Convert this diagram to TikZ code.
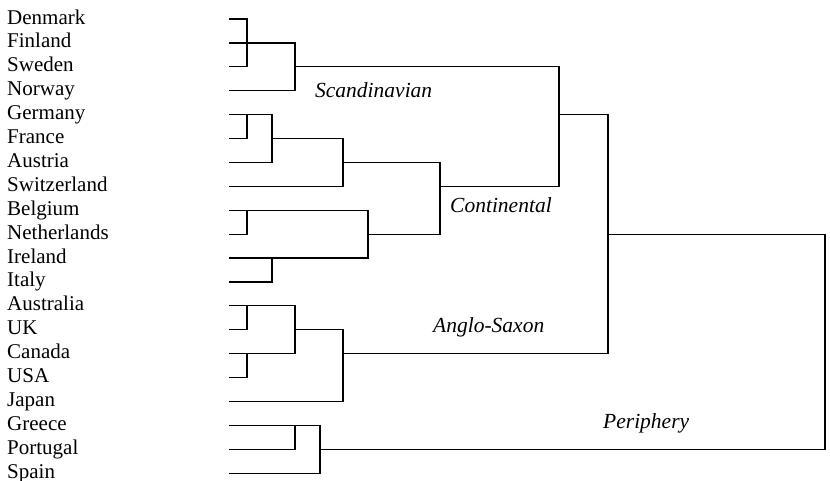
\documentclass[tikz,border=0pt]{standalone}
\usepackage{fontspec}
\setmainfont{Liberation Serif}
\begin{document}
\begin{tikzpicture}[x=1pt,y=-1pt,
  link/.style={line width=1.2pt,line join=miter},
  country/.style={anchor=base west,inner sep=0pt,font=\fontsize{21}{23}\selectfont},
  group/.style={anchor=base west,inner sep=0pt,font=\fontsize{21.5}{23}\selectfont\itshape}]
\useasboundingbox (0,0) rectangle (830,480);
% x levels
\coordinate (xa) at (247,0);
\coordinate (xb) at (272,0);
\coordinate (xc) at (295,0);
\coordinate (xd) at (320,0);
\coordinate (xe) at (343,0);
\coordinate (xf) at (368,0);
\coordinate (xg) at (440,0);
\coordinate (xh) at (559,0);
\coordinate (xi) at (608,0);
\coordinate (xj) at (825,0);
% leaves
\foreach \name [count=\i from 0] in {Denmark,Finland,Sweden,Norway,Germany,France,Austria,Switzerland,Belgium,Netherlands,Ireland,Italy,Australia,UK,Canada,USA,Japan,Greece,Portugal,Spain}{
  \pgfmathsetmacro{\yy}{19+23.9*\i}
  \node[country] (n\i) at (7,\yy+5) {\name};
  \coordinate (l\i) at (229,\yy);
}
% Scandinavian
\draw[link] (l0) -- (l0-|xa) -- (l2-|xa) -- (l2);
\draw[link] (l1) -- (l1-|xc) -- (l3-|xc) -- (l3);
\draw[link] (l2-|xc) -- (l2-|xh) -- (l7-|xh) -- (l7-|xg);
% Continental
\draw[link] (l4) -- (l4-|xb) -- (l6-|xb) -- (l6);
\draw[link] (l4-|xa) -- (l5-|xa) -- (l5);
\draw[link] (l5-|xb) -- (l5-|xe) -- (l7-|xe) -- (l7);
\draw[link] (l6-|xe) -- (l6-|xg) -- (l9-|xg) -- (l9-|xf);
\draw[link] (l8) -- (l8-|xf) -- (l10-|xf) -- (l10);
\draw[link] (l8-|xa) -- (l9-|xa) -- (l9);
\draw[link] (l10-|xb) -- (l11-|xb) -- (l11);
\draw[link] (l4-|xh) -- (l4-|xi) -- (l14-|xi) -- (l14-|xe);
% Anglo-Saxon
\draw[link] (l12) -- (l12-|xc) -- (l14-|xc) -- (l14);
\draw[link] (l12-|xa) -- (l13-|xa) -- (l13);
\draw[link] (l14-|xa) -- (l15-|xa) -- (l15);
\draw[link] (l13-|xc) -- (l13-|xe) -- (l16-|xe) -- (l16);
\draw[link] (l9-|xi) -- (l9-|xj) -- (l18-|xj) -- (l18-|xd);
% Periphery
\draw[link] (l17) -- (l17-|xd) -- (l19-|xd) -- (l19);
\draw[link] (l17-|xc) -- (l18-|xc) -- (l18);
% group labels
\node[group] (scand) at (315,97) {Scandinavian};
\node[group] (cont) at (450,212) {Continental};
\node[group] (anglo) at (433,332) {Anglo-Saxon};
\node[group] (peri) at (603,428) {Periphery};
\end{tikzpicture}
\end{document}
